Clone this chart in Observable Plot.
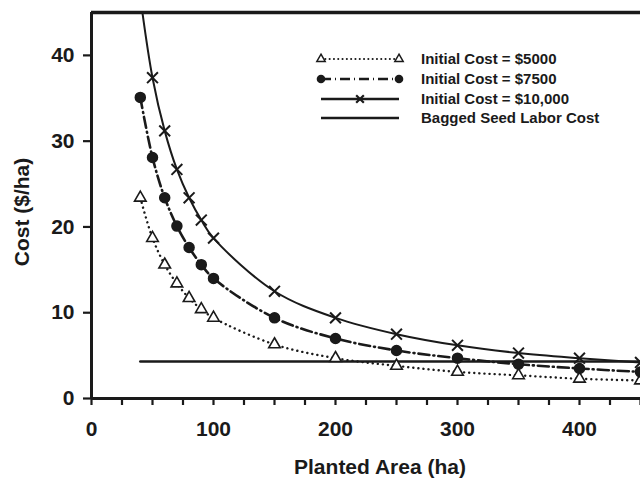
<!DOCTYPE html>
<html>
<head>
<meta charset="utf-8">
<script src="https://cdn.jsdelivr.net/npm/d3@7"></script>
<script src="https://cdn.jsdelivr.net/npm/@observablehq/plot@0.6"></script>
<style>
  html, body { margin: 0; padding: 0; background: #fff; }
  #chart svg { display: block; }
  #chart g[aria-label="x-axis tick"] path,
  #chart g[aria-label="y-axis tick"] path { stroke-width: 2.2px; stroke: #1a1a1a; }
</style>
</head>
<body>
<div id="chart"></div>
<script>
// ---- data ----
const area = [40, 50, 60, 70, 80, 90, 100, 150, 200, 250, 300, 350, 400, 450];
const cost5000 = [23.4, 18.7, 15.6, 13.4, 11.7, 10.4, 9.4, 6.3, 4.7, 3.8, 3.1, 2.7, 2.3, 2.1];
const cost7500 = [35.1, 28.1, 23.4, 20.1, 17.6, 15.6, 14.0, 9.4, 7.0, 5.6, 4.7, 4.0, 3.5, 3.1];
const cost10000 = [46.8, 37.4, 31.2, 26.7, 23.4, 20.8, 18.7, 12.5, 9.4, 7.5, 6.2, 5.3, 4.7, 4.2];
const laborCost = 4.3;
const laborArea = [40, 450];
const seriesNames = ["Initial Cost = $5000", "Initial Cost = $7500", "Initial Cost = $10,000", "Bagged Seed Labor Cost"];
const xTicks = [0, 25, 50, 75, 100, 125, 150, 175, 200, 225, 250, 275, 300, 325, 350, 375, 400, 425, 450];
const xLabels = [0, 100, 200, 300, 400];
const yTicks = [0, 10, 20, 30, 40];

const toRows = vals => area.map((a, i) => ({x: a, y: vals[i]}));
const s5 = toRows(cost5000), s75 = toRows(cost7500), s10 = toRows(cost10000);
const labor = laborArea.map(a => ({x: a, y: laborCost}));

const ink = "#1a1a1a";
const font = "'Liberation Sans', Arial, Helvetica, sans-serif";

const plot = Plot.plot({
  width: 640,
  height: 482,
  marginLeft: 91,
  marginTop: 12,
  marginRight: 0,
  marginBottom: 84,
  style: {fontFamily: font, fontSize: "20px", fontWeight: "bold", color: ink, background: "#fff"},
  x: {domain: [0, 450], ticks: xTicks, tickFormat: d => xLabels.includes(d) ? d : "", tickSize: 7, tickPadding: 16, label: null},
  y: {domain: [0, 45], ticks: yTicks, tickSize: 8, tickPadding: 9, label: null},
  marks: [
    Plot.line(labor, {x: "x", y: "y", stroke: ink, strokeWidth: 2.5, clip: true}),
    Plot.line(s5, {x: "x", y: "y", curve: "catmull-rom", stroke: ink, strokeWidth: 2.4, strokeDasharray: "0.1,5", strokeLinecap: "round", clip: true}),
    Plot.line(s75, {x: "x", y: "y", curve: "catmull-rom", stroke: ink, strokeWidth: 2.6, strokeDasharray: "11,4,1,4", clip: true}),
    Plot.line(s10, {x: "x", y: "y", curve: "catmull-rom", stroke: ink, strokeWidth: 2, clip: true}),
    Plot.dot(s5, {x: "x", y: "y", symbol: "triangle", r: 4.3, fill: "white", stroke: ink, strokeWidth: 1.6, clip: true}),
    Plot.dot(s75, {x: "x", y: "y", symbol: "circle", r: 5, fill: ink, stroke: ink, clip: true}),
    Plot.dot(s10, {x: "x", y: "y", symbol: "times", r: 5, stroke: ink, strokeWidth: 2, clip: true}),
    Plot.ruleX([0], {stroke: ink, strokeWidth: 3}),
    Plot.ruleY([0], {stroke: ink, strokeWidth: 3}),
    Plot.ruleY([45], {stroke: ink, strokeWidth: 3.5})
  ]
});

document.getElementById("chart").appendChild(plot);

// ---- enlarge Plot's tick labels, then add axis titles and legend ----
const svg = d3.select(plot);
svg.selectAll("text").style("font-size", "21px").style("font-weight", "bold").style("fill", ink);
svg.append("text")
  .attr("transform", "translate(29,212) rotate(-90)")
  .attr("text-anchor", "middle")
  .attr("font-family", font).attr("font-weight", "bold").style("font-size", "21px")
  .attr("fill", ink)
  .text("Cost ($/ha)");
svg.append("text")
  .attr("x", 380).attr("y", 474)
  .attr("text-anchor", "middle")
  .attr("font-family", font).attr("font-weight", "bold").style("font-size", "21px")
  .attr("fill", ink)
  .text("Planted Area (ha)");

const lg = svg.append("g").attr("font-family", font).attr("font-weight", "bold").attr("fill", ink).attr("text-anchor", "start").style("font-size", "15px");
const rowsY = [59, 79, 99, 118];
const lx1 = 321, lx2 = 399, tx = 421;
// row 0: dotted with triangles
lg.append("line").attr("x1", lx1).attr("x2", lx2).attr("y1", rowsY[0]).attr("y2", rowsY[0])
  .attr("stroke", ink).attr("stroke-width", 2).attr("stroke-dasharray", "0.1,4.2").attr("stroke-linecap", "round");
[lx1, lx2].forEach(px => lg.append("path").attr("transform", `translate(${px},${rowsY[0]})`)
  .attr("d", d3.symbol(d3.symbolTriangle, 30)()).attr("fill", "white").attr("stroke", ink).attr("stroke-width", 1.5));
// row 1: dash-dot with circles
lg.append("line").attr("x1", lx1).attr("x2", lx2).attr("y1", rowsY[1]).attr("y2", rowsY[1])
  .attr("stroke", ink).attr("stroke-width", 2.6).attr("stroke-dasharray", "10,4,1,4");
[lx1, lx2].forEach(px => lg.append("circle").attr("cx", px).attr("cy", rowsY[1]).attr("r", 4.3).attr("fill", ink));
// row 2: solid with times
lg.append("line").attr("x1", lx1).attr("x2", lx2).attr("y1", rowsY[2]).attr("y2", rowsY[2])
  .attr("stroke", ink).attr("stroke-width", 2.4);
lg.append("path").attr("transform", `translate(${(lx1 + lx2) / 2},${rowsY[2]})`)
  .attr("d", d3.symbol(d3.symbolTimes, 40)()).attr("fill", "none").attr("stroke", ink).attr("stroke-width", 2.2);
// row 3: solid
lg.append("line").attr("x1", lx1).attr("x2", lx2).attr("y1", rowsY[3]).attr("y2", rowsY[3])
  .attr("stroke", ink).attr("stroke-width", 2.6);
seriesNames.forEach((n, i) => lg.append("text").attr("x", tx).attr("y", rowsY[i]).attr("dy", "0.36em").attr("text-anchor", "start").text(n));
</script>
</body>
</html>
